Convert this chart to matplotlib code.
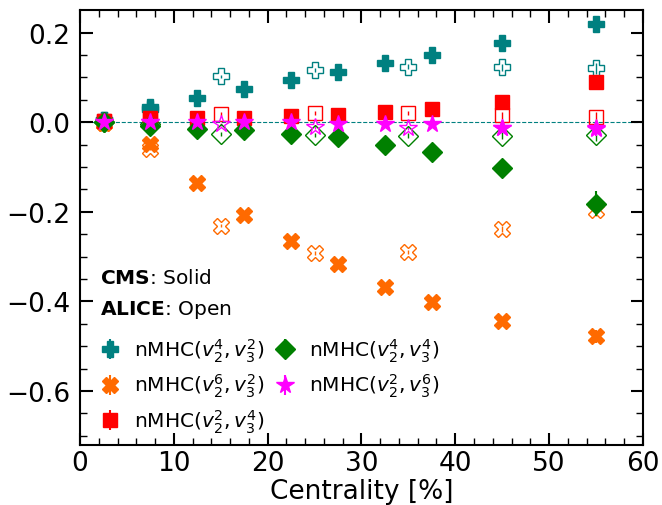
import matplotlib
matplotlib.use('Agg')
import matplotlib.pyplot as plt
import numpy as np

# centrality bins
cent_cms = [2.5, 7.5, 12.5, 17.5, 22.5, 27.5, 32.5, 37.5, 45, 55]
cent_alice = [2.5, 7.5, 15, 25, 35, 45, 55]

# CMS (solid)
cms_42 = [0.005, 0.033, 0.055, 0.075, 0.093, 0.111, 0.131, 0.149, 0.176, 0.220]
cms_62 = [-0.002, -0.048, -0.136, -0.207, -0.266, -0.316, -0.367, -0.402, -0.444, -0.478]
cms_24 = [0.003, 0.010, 0.010, 0.009, 0.013, 0.016, 0.023, 0.030, 0.046, 0.090]
cms_44 = [0.000, -0.008, -0.015, -0.018, -0.026, -0.034, -0.050, -0.067, -0.102, -0.182]
cms_26 = [0.000, 0.000, 0.000, 0.000, 0.000, -0.003, -0.003, -0.003, -0.013, -0.015]
cms_err = [0.002, 0.003, 0.003, 0.003, 0.004, 0.004, 0.005, 0.006, 0.008, 0.015]
cms_err44 = [0.002, 0.003, 0.003, 0.003, 0.004, 0.004, 0.005, 0.006, 0.008, 0.028]

# ALICE (open)
alice_42 = [0.004, 0.030, 0.102, 0.116, 0.124, 0.122, 0.120]
alice_62 = [-0.001, -0.060, -0.231, -0.292, -0.290, -0.238, -0.197]
alice_24 = [0.003, 0.008, 0.018, 0.020, 0.021, 0.015, 0.011]
alice_44 = [0.000, -0.004, -0.026, -0.029, -0.030, -0.030, -0.029]
alice_26 = [0.000, 0.000, -0.005, -0.011, -0.013, -0.012, -0.014]
alice_err = [0.002, 0.003, 0.004, 0.004, 0.005, 0.007, 0.012]

series = [
    (r'nMHC($v_2^4,v_3^2$)', cms_42, alice_42, 'teal', 'P', 11),
    (r'nMHC($v_2^6,v_3^2$)', cms_62, alice_62, '#ff6a00', 'X', 11),
    (r'nMHC($v_2^2,v_3^4$)', cms_24, alice_24, 'red', 's', 10),
    (r'nMHC($v_2^4,v_3^4$)', cms_44, alice_44, 'green', 'D', 10),
    (r'nMHC($v_2^2,v_3^6$)', cms_26, alice_26, 'magenta', '*', 13),
]

fig, ax = plt.subplots(figsize=(6.62, 5.06), dpi=100)

ax.axhline(0, color='teal', ls='--', lw=0.8, zorder=0)

for label, cms, alice, col, mk, ms in series:
    err = cms_err44 if mk == 'D' else cms_err
    ax.errorbar(cent_cms, cms, yerr=err, fmt=mk, color=col, ms=ms,
                elinewidth=1.5, capsize=0, label=label, zorder=3)
    ax.errorbar(cent_alice, alice, yerr=alice_err, fmt=mk, color=col, ms=ms,
                mfc='none', mew=1.0, elinewidth=1.0, capsize=0, zorder=2)

ax.set_xlim(0, 60)
ax.set_ylim(-0.72, 0.25)
ax.set_xticks(np.arange(0, 61, 10))
ax.set_xticks(np.arange(0, 61, 2), minor=True)
ax.set_yticks([-0.6, -0.4, -0.2, 0.0, 0.2])
ax.set_yticks(np.arange(-0.70, 0.25, 0.05), minor=True)
ax.tick_params(which='both', direction='in', top=True, right=True, labelsize=19)
ax.tick_params(which='major', length=9, width=1.5)
ax.tick_params(which='minor', length=5, width=1.0)
ax.tick_params(axis='x', which='major', pad=4)
ax.tick_params(axis='y', which='major', pad=7)
for sp in ax.spines.values():
    sp.set_linewidth(1.5)

ax.set_xlabel('Centrality [%]', fontsize=19, labelpad=1)

ax.text(0.035, 0.372, r'$\mathbf{CMS}$: Solid', transform=ax.transAxes, fontsize=14.5)
ax.text(0.035, 0.301, r'$\mathbf{ALICE}$: Open', transform=ax.transAxes, fontsize=14.5)

handles, labels = ax.get_legend_handles_labels()
ax.legend(handles, labels, ncol=2, frameon=False, fontsize=14.5,
          loc='lower left', bbox_to_anchor=(0.0, -0.019), handletextpad=0.6,
          columnspacing=0.4, labelspacing=0.4, handlelength=1.2)

fig.subplots_adjust(left=0.121, right=0.971, top=0.978, bottom=0.119)
fig.savefig('out.png', dpi=100)
